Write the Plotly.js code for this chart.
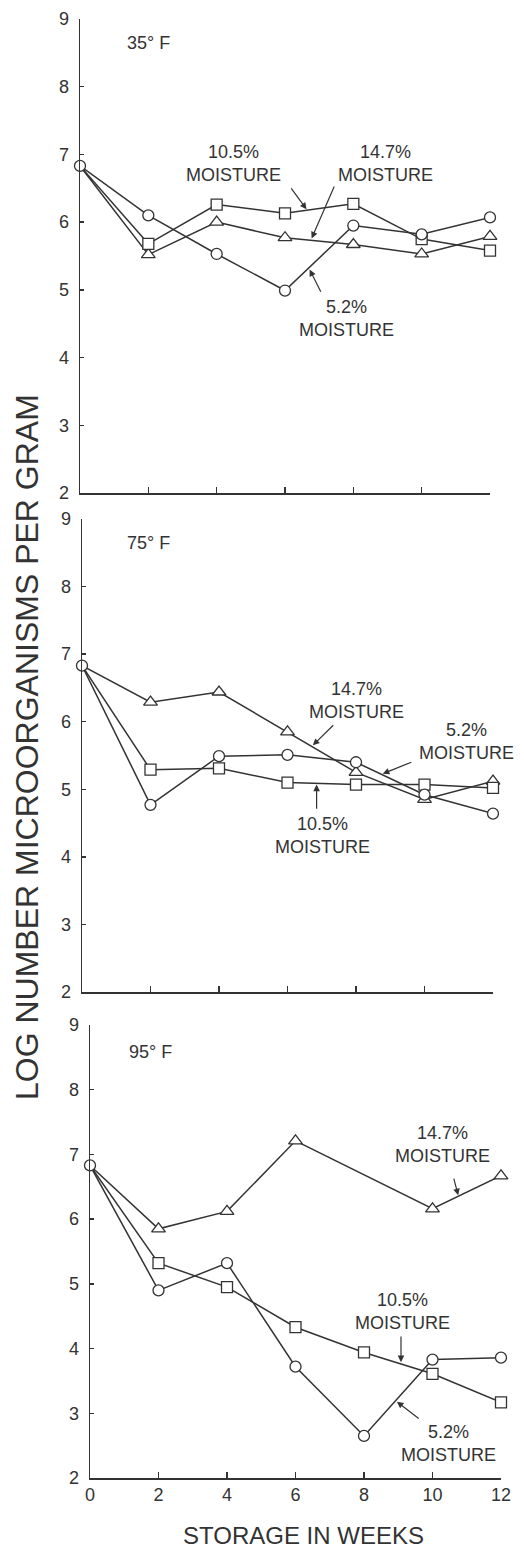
<!DOCTYPE html>
<html>
<head>
<meta charset="utf-8">
<script src="https://cdn.plot.ly/plotly-3.0.1.min.js"></script>
<style>html,body{margin:0;padding:0;background:#fff;}#chart{width:524px;height:1550px;}</style>
</head>
<body>
<div id="chart"></div>
<script>
// ---- data ----
const weeks = [0, 2, 4, 6, 8, 10, 12];
const weeks95_147 = [0, 2, 4, 6, 10, 12];

const t35_m52  = [6.83, 6.10, 5.53, 4.99, 5.95, 5.82, 6.07];
const t35_m105 = [6.83, 5.68, 6.26, 6.13, 6.27, 5.75, 5.58];
const t35_m147 = [6.83, 5.52, 6.00, 5.77, 5.67, 5.53, 5.79];

const t75_m52  = [6.83, 4.77, 5.49, 5.51, 5.40, 4.92, 4.64];
const t75_m105 = [6.83, 5.29, 5.31, 5.10, 5.07, 5.07, 5.02];
const t75_m147 = [6.83, 6.29, 6.44, 5.85, 5.25, 4.85, 5.12];

const t95_m52  = [6.83, 4.90, 5.32, 3.72, 2.65, 3.83, 3.86];
const t95_m105 = [6.83, 5.32, 4.95, 4.33, 3.94, 3.61, 3.17];
const t95_m147 = [6.83, 5.85, 6.12, 7.21, 6.16, 6.67];

const xTicks = [0, 2, 4, 6, 8, 10, 12];
const xTickText = ['0', '2', '4', '6', '8', '10', '12'];
const yTicks = [2, 3, 4, 5, 6, 7, 8, 9];
const panelLabels = ['35° F', '75° F', '95° F'];
const seriesLabels = ['5.2%<br>MOISTURE', '10.5%<br>MOISTURE', '14.7%<br>MOISTURE'];

// ---- styling ----
const INK = '#333333';
const FONT = 'Liberation Sans, Arial, sans-serif';
const W = 524, H = 1550;

function dom(a, b, total) { return [a / total, b / total]; }
function ydom(top, bottom) { return [1 - bottom / H, 1 - top / H]; }

function series(x, y, sym, ax, size) {
  return {
    x: x, y: y, xaxis: ax[0], yaxis: ax[1],
    type: 'scatter', mode: 'lines+markers', cliponaxis: false,
    line: {color: INK, width: 1.5},
    marker: {
      symbol: sym, color: '#ffffff', opacity: 1,
      size: x.map(v => v === 0 ? 0 : size),
      line: {color: INK, width: 1.3}
    },
    hoverinfo: 'skip', showlegend: false
  };
}
function circle(x, y, ax) {
  const t = series(x, y, 'circle', ax, 11);
  t.marker.size = 11;
  return t;
}

const A1 = ['x', 'y'], A2 = ['x2', 'y2'], A3 = ['x3', 'y3'];
const traces = [
  series(weeks, t35_m147, 'triangle-up', A1, 12),
  series(weeks, t35_m105, 'square', A1, 11),
  circle(weeks, t35_m52, A1),
  series(weeks, t75_m147, 'triangle-up', A2, 12),
  series(weeks, t75_m105, 'square', A2, 11),
  circle(weeks, t75_m52, A2),
  series(weeks95_147, t95_m147, 'triangle-up', A3, 12),
  series(weeks, t95_m105, 'square', A3, 11),
  circle(weeks, t95_m52, A3)
];

function xaxis(d, labels, anchor) {
  return {
    domain: d, range: [0, 12], anchor: anchor,
    showline: true, linecolor: INK, linewidth: 1.5,
    showgrid: false, zeroline: false,
    ticks: 'inside', ticklen: 6, tickwidth: 1.3, tickcolor: INK,
    tickmode: 'array', tickvals: xTicks, ticktext: xTickText,
    showticklabels: labels,
    tickfont: {family: FONT, size: 18, color: INK},
    fixedrange: true
  };
}
function yaxis(d, anchor) {
  return {
    domain: d, range: [2, 9], anchor: anchor,
    showline: true, linecolor: INK, linewidth: 1.5,
    showgrid: false, zeroline: false,
    ticks: 'inside', ticklen: 4, tickwidth: 1.3, tickcolor: INK,
    tickmode: 'array', tickvals: yTicks,
    tickfont: {family: FONT, size: 18, color: INK},
    ticklabelstandoff: 6,
    fixedrange: true
  };
}

function txt(xr, yr, x, y, text, xanchor) {
  return {xref: xr, yref: yr, x: x, y: y, text: text, showarrow: false,
          xanchor: xanchor || 'center', yanchor: 'middle',
          font: {family: FONT, size: 18, color: INK}};
}
function arrow(xr, yr, tx, ty, hx, hy) {
  return {xref: xr, yref: yr, axref: xr, ayref: yr,
          x: hx, y: hy, ax: tx, ay: ty, text: '', showarrow: true,
          arrowhead: 2, arrowsize: 1.1, arrowwidth: 1.2, arrowcolor: INK, standoff: 0};
}

const annotations = [
  // 35 F
  txt('x', 'y', 1.32, 8.65, panelLabels[0], 'left'),
  txt('x', 'y', 4.48, 6.87, seriesLabels[1]),
  arrow('x', 'y', 6.15, 6.52, 6.63, 6.19),
  txt('x', 'y', 8.93, 6.87, seriesLabels[2]),
  arrow('x', 'y', 7.46, 6.55, 6.78, 5.76),
  txt('x', 'y', 7.80, 4.57, seriesLabels[0]),
  arrow('x', 'y', 7.07, 4.95, 6.72, 5.30),
  // 75 F
  txt('x2', 'y2', 1.25, 8.65, panelLabels[1], 'left'),
  txt('x2', 'y2', 8.01, 6.32, seriesLabels[2]),
  arrow('x2', 'y2', 7.38, 5.97, 6.74, 5.65),
  txt('x2', 'y2', 11.23, 5.71, seriesLabels[0]),
  arrow('x2', 'y2', 9.66, 5.41, 8.78, 5.23),
  txt('x2', 'y2', 7.03, 4.31, seriesLabels[1]),
  arrow('x2', 'y2', 6.85, 4.69, 6.85, 5.07),
  // 95 F
  txt('x3', 'y3', 1.08, 8.58, panelLabels[2], 'left'),
  txt('x3', 'y3', 10.28, 7.15, seriesLabels[2]),
  arrow('x3', 'y3', 10.61, 6.65, 10.75, 6.37),
  txt('x3', 'y3', 9.11, 4.58, seriesLabels[1]),
  arrow('x3', 'y3', 9.08, 4.21, 9.08, 3.79),
  txt('x3', 'y3', 10.46, 2.53, seriesLabels[0]),
  arrow('x3', 'y3', 9.64, 2.90, 8.96, 3.18),
  // y title
  {xref: 'paper', yref: 'paper', x: 27 / W, y: 1 - 747 / H, text: 'LOG NUMBER MICROORGANISMS PER GRAM',
   textangle: -90, showarrow: false, xanchor: 'center', yanchor: 'middle',
   font: {family: FONT, size: 32, color: INK}},
  // x title
  {xref: 'paper', yref: 'paper', x: 303 / W, y: 1 - 1535 / H, text: 'STORAGE IN WEEKS',
   showarrow: false, xanchor: 'center', yanchor: 'middle',
   font: {family: FONT, size: 24, color: INK}}
];

const layout = {
  width: W, height: H,
  margin: {l: 0, r: 0, t: 0, b: 0, pad: 0},
  paper_bgcolor: '#ffffff', plot_bgcolor: '#ffffff',
  showlegend: false,
  xaxis:  xaxis(dom(80, 490, W), false, 'y'),
  yaxis:  yaxis(ydom(19, 493), 'x'),
  xaxis2: xaxis(dom(82, 493, W), false, 'y2'),
  yaxis2: yaxis(ydom(519, 992), 'x2'),
  xaxis3: xaxis(dom(90, 501, W), true, 'y3'),
  yaxis3: yaxis(ydom(1025, 1478), 'x3'),
  annotations: annotations
};

Plotly.newPlot('chart', traces, layout, {staticPlot: true, displayModeBar: false});
</script>
</body>
</html>
